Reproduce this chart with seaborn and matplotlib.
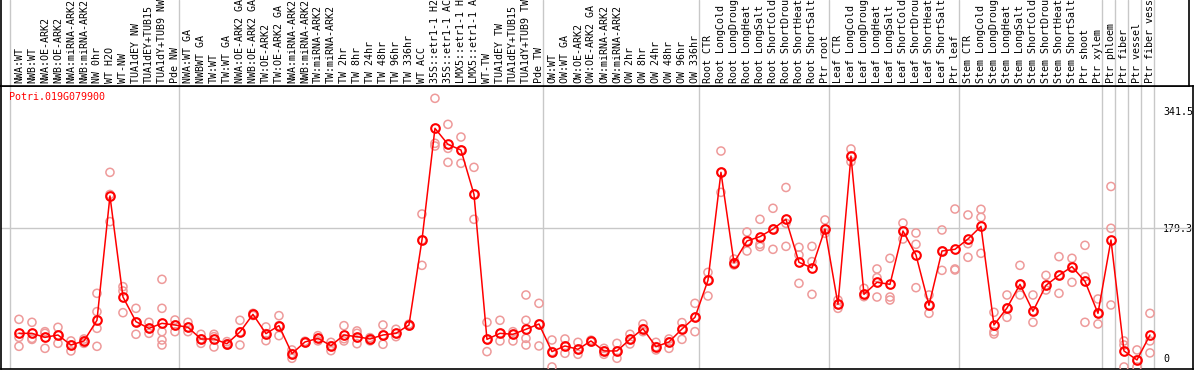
import matplotlib
matplotlib.use("Agg")
import matplotlib.pyplot as plt
import matplotlib.transforms as mtransforms
import numpy as np
import pandas as pd
import seaborn as sns

# gene shown in the panel
gene = "Potri.019G079900"

# sample labels (truncated to 14 chars as in the source chart)
labels = [
    "NWA:WT", "NWB:WT", "NWA:OE-ARK2", "NWB:OE-ARK2", "NWA:miRNA-ARK2",
    "NWB:miRNA-ARK2", "NW 0hr", "WT H2O", "WT-NW", "TUA1dEY NW",
    "TUA1dEY+TUB15", "TUA1dY+TUB9 NW", "Pde NW",
    "NWA:WT GA", "NWBWT GA", "TW:WT", "TW:WT GA", "NWA:OE-ARK2 GA",
    "NWB:OE-ARK2 GA", "TW:OE-ARK2", "TW:OE-ARK2 GA", "NWA:miRNA-ARK2",
    "NWB:miRNA-ARK2", "TW:miRNA-ARK2", "TW:miRNA-ARK2", "TW 2hr", "TW 8hr",
    "TW 24hr", "TW 48hr", "TW 96hr", "TW 336hr", "WT ACC", "35S::etr1-1 H2",
    "35S::etr1-1 AC", "LMX5::etr1-1 H", "LMX5::etr1-1 A", "WT-TW",
    "TUA1dEY TW", "TUA1dEY+TUB15", "TUA1dY+TUB9 TW", "Pde TW",
    "OW:WT", "OW:WT GA", "OW:OE-ARK2", "OW:OE-ARK2 GA", "OW:miRNA-ARK2",
    "OW:miRNA-ARK2", "OW 2hr", "OW 8hr", "OW 24hr", "OW 48hr", "OW 96hr",
    "OW 336hr",
    "Root CTR", "Root LongCold", "Root LongDroug", "Root LongHeat",
    "Root LongSalt", "Root ShortCold", "Root ShortDrou", "Root ShortHeat",
    "Root ShortSalt", "Ptr root",
    "Leaf CTR", "Leaf LongCold", "Leaf LongDroug", "Leaf LongHeat",
    "Leaf LongSalt", "Leaf ShortCold", "Leaf ShortDrou", "Leaf ShortHeat",
    "Leaf ShortSalt", "Ptr leaf",
    "Stem CTR", "Stem LongCold", "Stem LongDroug", "Stem LongHeat",
    "Stem LongSalt", "Stem ShortCold", "Stem ShortDrou", "Stem ShortHeat",
    "Stem ShortSalt", "Ptr shoot", "Ptr xylem",
    "Ptr phloem", "Ptr fiber", "Ptr vessel", "Ptr fiber vess",
]

# number of samples in each block separated by a vertical line
group_sizes = [13, 28, 12, 10, 10, 11, 1, 1, 1, 1]

# mean expression per sample
means = [
    34.4, 34.4, 28.9, 32.1, 18.3, 23.9, 52.4, 223.9, 84.6, 50.5,
    41.3, 48.2, 45.9, 42.7, 26.6, 26.6, 20.1, 36.3, 60.6, 34.0,
    45.0, 6.4, 22.5, 27.5, 17.4, 32.1, 29.8, 26.6, 32.1, 34.4,
    45.9, 163.2, 317.2, 295.1, 287.3, 226.2, 26.1, 34.4, 33.1, 40.0,
    47.3, 9.2, 17.0, 12.4, 23.9, 10.1, 10.1, 26.1, 40.8, 16.0,
    22.5, 40.4, 56.5, 107.5, 256.5, 131.9, 161.8, 167.8, 178.3, 191.7,
    132.4, 124.6, 178.3, 74.4, 279.0, 88.2, 104.8, 102.0, 175.6, 142.5,
    73.1, 148.0, 150.3, 164.5, 182.0, 45.9, 69.4, 102.0, 64.8, 100.6,
    114.4, 126.4, 106.2, 62.0, 163.2, 10.1, -2.3, 32.1,
]

# individual replicate values per sample
replicates = [
    [53.7, 28.9, 16.5], [49.6, 27.5, 26.0], [36.7, 34.4, 13.7],
    [42.7, 32.1, 20.6], [23.9, 18.3, 10.1], [26.6, 23.9, 20.6],
    [89.6, 64.3, 41.3, 16.5], [256.5, 226.0, 188.5], [98.8, 92.8, 62.9],
    [68.9, 50.0, 33.1], [49.6, 41.3, 34.4], [108.9, 68.9, 36.7, 25.2, 18.3],
    [52.8, 45.9, 36.7], [49.6, 42.7, 36.7], [33.1, 26.6, 20.6],
    [33.1, 29.8, 15.6], [23.0, 20.1, 18.3], [52.4, 36.3, 18.3],
    [62.0, 60.6, 59.0], [43.2, 34.0, 24.3], [58.8, 45.0, 31.2],
    [11.5, 6.4, 0.0], [23.5, 22.5, 21.5], [31.2, 27.5, 24.0],
    [22.0, 17.4, 10.5], [45.0, 27.0, 23.9], [37.7, 34.4, 20.1],
    [28.5, 26.6, 24.0], [45.9, 32.1, 19.3], [40.0, 34.4, 29.8],
    [47.0, 45.9, 44.5], [199.0, 163.2, 128.2], [358.6, 296.5, 292.8],
    [322.7, 289.6, 270.3], [305.2, 287.3, 268.9], [263.4, 226.2, 191.7],
    [49.6, 26.1, 9.2], [52.4, 34.4, 23.9], [36.7, 33.1, 23.9],
    [87.3, 52.4, 27.5, 18.3], [75.8, 47.3, 17.0], [25.2, 9.2, -12.0],
    [26.6, 17.0, 6.9], [22.0, 12.4, 5.5], [25.0, 23.9, 22.5],
    [13.7, 10.1, 5.5], [20.6, 10.1, 0.0], [33.1, 26.1, 19.7],
    [47.3, 40.8, 36.7], [22.0, 16.0, 11.5], [26.6, 22.5, 13.7],
    [49.2, 40.4, 26.1], [75.8, 56.5, 36.7], [118.5, 107.5, 85.9],
    [285.9, 256.5, 228.9], [136.9, 131.9, 128.7], [174.2, 161.8, 148.0],
    [191.7, 157.2, 154.0], [206.9, 178.3, 150.3], [235.6, 186.2, 154.4],
    [153.1, 142.5, 103.4], [154.4, 133.3, 88.2], [190.8, 178.3, 172.4],
    [80.4, 74.4, 68.9], [288.7, 279.0, 271.2], [96.5, 88.2, 85.0],
    [123.2, 111.2, 84.5], [137.9, 84.5, 80.4], [186.6, 175.6, 164.5],
    [172.8, 157.2, 97.4], [87.3, 73.1, 62.0], [177.0, 148.0, 121.3],
    [205.9, 123.2, 121.8], [197.7, 158.1, 139.3], [205.5, 194.5, 144.8],
    [63.4, 36.7, 33.5], [87.3, 69.4, 56.5], [128.2, 102.0, 87.3],
    [87.3, 64.8, 49.6], [114.4, 94.2, 100.6], [140.2, 114.4, 89.6],
    [137.9, 126.4, 104.8], [155.8, 112.6, 49.6], [81.8, 62.0, 47.3],
    [237.0, 179.3, 73.5], [23.9, 18.3, -12.0], [11.5, -2.3, -12.0],
    [62.0, 23.9, 7.4],
]

ytick_values = [0, 179.3, 341.5]

sns.set_style("white")
plt.rcParams["font.family"] = ["DejaVu Sans Mono", "DejaVu Sans"]

W, H = 1194, 370
fig = plt.figure(figsize=(W / 100, H / 100), dpi=100)

# pixel layout of the two panels
ax = fig.add_axes([0.5 / W, 1 / H, 1192.5 / W, 283 / H])
hdr = fig.add_axes([0.5 / W, 284 / H, 1188 / W, 86 / H])

mean_df = pd.DataFrame({"sample": np.arange(len(means)), "value": means})
rep_df = pd.DataFrame(
    [(i, v) for i, reps in enumerate(replicates) for v in reps],
    columns=["sample", "value"],
)

# replicate points
sns.scatterplot(data=rep_df, x="sample", y="value", ax=ax, s=34,
                marker="o", facecolor="none", edgecolor="#ee9a9a",
                linewidth=1.1, zorder=3, legend=False)

# mean line with markers
sns.lineplot(data=mean_df, x="sample", y="value", ax=ax, color="red",
             linewidth=1.1, marker="o", markersize=6.2,
             markerfacecolor="none", markeredgecolor="red",
             markeredgewidth=1.5, zorder=4, errorbar=None)

# axis ranges tuned to the reference pixel grid
ax.set_xlim(-1.42, 90.31)
ax.set_ylim(-14.8, 375.6)
hdr.set_xlim(-1.42, 89.96)
hdr.set_ylim(0, 1)

# group separators
bounds = np.concatenate([[0], np.cumsum(group_sizes)]) - 0.67
for b in bounds:
    ax.axvline(b, color="#c8c8c8", linewidth=1.0, zorder=1)
    hdr.axvline(b, color="#c8c8c8", linewidth=1.0, zorder=1)
ax.axhline(ytick_values[1], color="#c8c8c8", linewidth=1.0, zorder=1)

ax.set_xticks([])
ax.set_xlabel("")
ax.set_ylabel("")
ax.set_yticks(ytick_values)
ax.set_yticklabels([f"{v:g}" for v in ytick_values])
ax.tick_params(axis="y", left=False, right=True, labelleft=False,
               labelright=True, length=0, pad=-21.5, labelsize=7.2,
               labelcolor="black")
for s in ax.spines.values():
    s.set_color("black")
    s.set_linewidth(1.2)

ax.text(0.0075, 0.96, gene, transform=ax.transAxes, color="red",
        fontsize=7.2, ha="left", va="center")

# sample labels in header
trans = mtransforms.blended_transform_factory(hdr.transData, hdr.transAxes)
for i, lab in enumerate(labels):
    hdr.text(i, 0.03, lab, transform=trans, rotation=90, ha="center",
             va="bottom", fontsize=7.2, color="black")

hdr.set_xticks([])
hdr.set_yticks([])
hdr.spines["top"].set_visible(False)
for k in ["left", "right", "bottom"]:
    hdr.spines[k].set_color("black")
    hdr.spines[k].set_linewidth(1.2)

fig.savefig("out.png", dpi=100)
plt.close(fig)
